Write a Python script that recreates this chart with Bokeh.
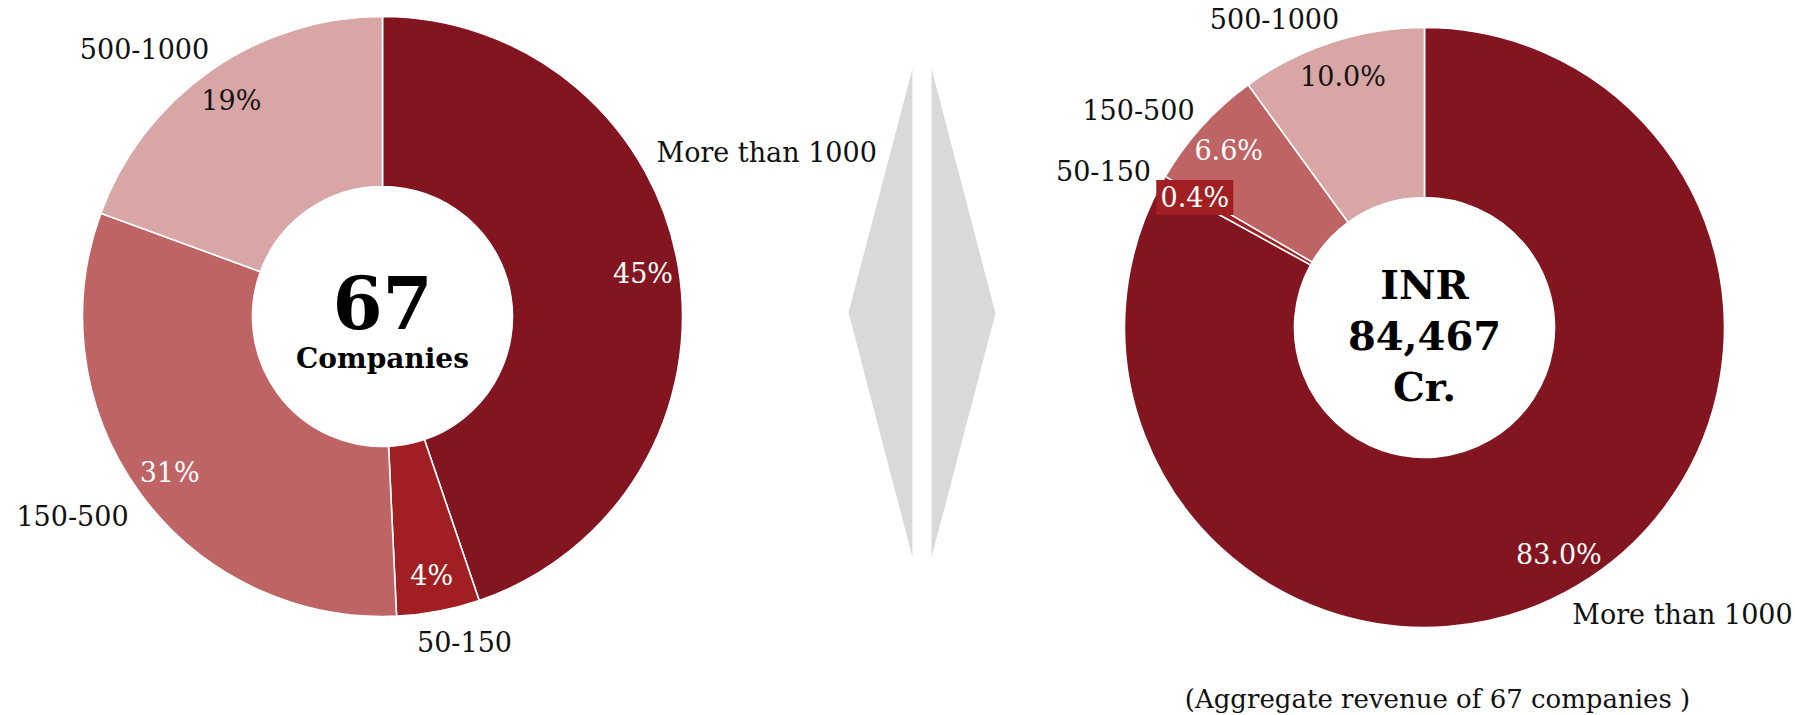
import math

from bokeh.core.properties import value
from bokeh.embed import file_html
from bokeh.models import ColumnDataSource, Range1d
from bokeh.plotting import figure
from bokeh.resources import INLINE

# ---- data -------------------------------------------------------------
categories = ["More than 1000", "50-150", "150-500", "500-1000"]
company_counts = [30, 3, 21, 13]              # number of companies per revenue band
revenue_share = [83.0, 0.4, 6.6, 10.0]        # % of aggregate revenue per band
company_center = ["67", "Companies"]
revenue_center = ["INR", "84,467", "Cr."]
footnote = "(Aggregate revenue of 67 companies )"

# ---- styling / layout --------------------------------------------------
W, H = 1795, 715
FONT = "DejaVu Serif"
slice_colors = ["#831520", "#A11F22", "#BF6464", "#D9A6A6"]
pct_colors = ["white", "white", "white", "#141414"]
R_OUT, R_IN, R_LABEL = 300, 130, 264

left_center = (382, 316)      # pixel position, origin top-left
right_center = (1424, 327)

# category label anchors (pixel, origin top-left) and alignment
left_cat_pos = [(656, 152, "left"), (464, 641, "center"),
                (72, 515, "center"), (144, 48, "center")]
right_cat_pos = [(1682, 614, "center"), (1103, 170, "center"),
                 (1138, 109, "center"), (1274, 18, "center")]


def Y(py):
    """Convert a top-down pixel row into the plot's upward y coordinate."""
    return H - py


p = figure(width=W, height=H, x_range=Range1d(0, W), y_range=Range1d(0, H),
           output_backend="svg", toolbar_location=None,
           x_axis_type=None, y_axis_type=None, min_border=0)
p.grid.visible = False
p.outline_line_color = None
p.background_fill_color = "white"
p.border_fill_color = "white"

# ---- grey chevrons between the two donuts -----------------------------
p.patches(xs=[[848, 912, 912], [931, 995, 931]],
          ys=[[Y(312), Y(68), Y(557)], [Y(68), Y(313), Y(557)]],
          fill_color="#D9D9D9", line_color=None)


def donut(center, values, pct_labels, cat_pos, pct_box=None):
    cx, cy = center
    total = float(sum(values))
    cum = 0.0
    starts, ends, mids = [], [], []
    for v in values:
        t0 = cum / total * 360.0
        cum += v
        t1 = cum / total * 360.0
        # clockwise from 12 o'clock -> bokeh's anticlockwise-from-east angles
        starts.append(math.radians(90.0 - t1))
        ends.append(math.radians(90.0 - t0))
        mids.append(math.radians((t0 + t1) / 2.0))

    src = ColumnDataSource(dict(start=starts, end=ends, color=slice_colors))
    p.annular_wedge(x=cx, y=Y(cy), inner_radius=R_IN, outer_radius=R_OUT,
                    start_angle="start", end_angle="end", direction="anticlock",
                    fill_color="color", line_color="white", line_width=1.6,
                    source=src)

    lx = [cx + R_LABEL * math.sin(m) for m in mids]
    ly = [Y(cy - R_LABEL * math.cos(m)) for m in mids]

    if pct_box is not None:
        i = pct_box
        p.rect(x=lx[i], y=ly[i], width=77, height=35,
               fill_color=slice_colors[i], line_color=None)

    p.text(x=lx, y=ly, text=pct_labels, text_color=pct_colors,
           text_font=value(FONT), text_font_size="27px",
           text_align="center", text_baseline="middle")

    for name, (x, y, align) in zip(categories, cat_pos):
        p.text(x=[x], y=[Y(y)], text=[name], text_color="#111111",
               text_font=value(FONT), text_font_size="27px",
               text_align=align, text_baseline="middle")


left_total = sum(company_counts)
left_pct = [f"{round(c / left_total * 100)}%" for c in company_counts]
right_pct = [f"{v:.1f}%" for v in revenue_share]

donut(left_center, company_counts, left_pct, left_cat_pos)
donut(right_center, revenue_share, right_pct, right_cat_pos, pct_box=1)

# ---- centre captions ---------------------------------------------------
p.text(x=[left_center[0]], y=[Y(301)], text=[company_center[0]],
       text_font=value(FONT), text_font_style="bold", text_font_size="72px",
       text_color="black", text_align="center", text_baseline="middle")
p.text(x=[left_center[0]], y=[Y(358)], text=[company_center[1]],
       text_font=value(FONT), text_font_style="bold", text_font_size="28px",
       text_color="black", text_align="center", text_baseline="middle")

for txt, py in zip(revenue_center, [284, 335, 386]):
    p.text(x=[right_center[0]], y=[Y(py)], text=[txt],
           text_font=value(FONT), text_font_style="bold", text_font_size="40px",
           text_color="black", text_align="center", text_baseline="middle")

p.text(x=[1437], y=[Y(698)], text=[footnote], text_color="#111111",
       text_font=value(FONT), text_font_size="26px",
       text_align="center", text_baseline="middle")

open("out.html", "w").write(file_html(p, INLINE))
